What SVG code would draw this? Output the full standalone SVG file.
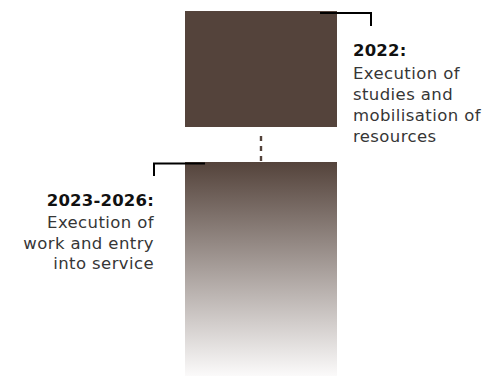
<svg xmlns="http://www.w3.org/2000/svg" width="490" height="376" viewBox="0 0 490 376">
<defs>
<linearGradient id="fade" x1="0" y1="0" x2="0" y2="1">
<stop offset="0" stop-color="#54433b"/>
<stop offset="1" stop-color="#fbfafa"/>
</linearGradient>
<style>
.lbl{font-family:"DejaVu Sans","Liberation Sans",sans-serif;font-size:16.5px;letter-spacing:0.4px;fill:#363636}
.hd{font-weight:bold;fill:#111111;letter-spacing:0.2px}
.br{fill:none;stroke:#000000;stroke-width:2}
</style>
</defs>
<rect width="490" height="376" fill="#ffffff"/>
<g id="connectors">
<line x1="261" y1="136" x2="261" y2="162" stroke="#54433b" stroke-width="2.4" stroke-dasharray="5 5"/>
</g>
<g id="phase2022">
<rect x="185" y="11" width="152" height="116" fill="#54433b"/>
<polyline class="br" points="320,13 371,13 371,26"/>
<text class="lbl" x="353"><tspan class="hd" x="353" y="56">2022:</tspan><tspan x="353" y="78.5">Execution of</tspan><tspan x="353" y="100">studies and</tspan><tspan x="353" y="121">mobilisation of</tspan><tspan x="353" y="142">resources</tspan></text>
</g>
<g id="phase2023">
<rect x="185" y="162" width="152" height="214" fill="url(#fade)"/>
<polyline class="br" points="205,163.5 154,163.5 154,176"/>
<text class="lbl" text-anchor="end"><tspan class="hd" x="154" y="206">2023-2026:</tspan><tspan x="154" y="228">Execution of</tspan><tspan x="154" y="248.5">work and entry</tspan><tspan x="154" y="269">into service</tspan></text>
</g>
</svg>
